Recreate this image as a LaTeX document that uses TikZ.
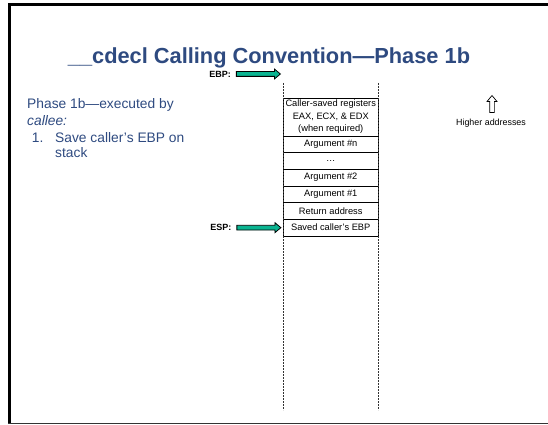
\documentclass[tikz,border=0pt]{standalone}
\usepackage{fontspec}
\setmainfont{Liberation Sans}
\usetikzlibrary{positioning,shapes.arrows}
\definecolor{slideblue}{RGB}{46,74,128}
\definecolor{ptrgreen}{RGB}{10,180,145}
\tikzset{
  slot/.style={draw, line width=0.9pt, minimum width=95.5pt, minimum height=16.67pt,
    inner sep=0pt, outer sep=0pt, font=\fontsize{9.3}{12.5}\selectfont},
  ptr/.style={single arrow, draw, fill=ptrgreen, line width=0.8pt, minimum height=44pt,
    inner xsep=0pt, inner ysep=2pt, single arrow head extend=2.6pt,
    single arrow tip angle=80},
  regname/.style={font=\bfseries\fontsize{9}{10}\selectfont, inner sep=1pt},
  bullet/.style={anchor=base west, inner sep=0pt, text=slideblue, font=\fontsize{13.8}{16}\selectfont},
  stackedge/.style={dash pattern=on 2pt off 1pt, line width=0.9pt, black!80}
}
\begin{document}
\begin{tikzpicture}[x=1pt,y=-1pt]
    \useasboundingbox (0,0) rectangle (548,425);
    % slide frame
    \draw[line width=2.6pt] (9.6,424) |- (560,4.8);
    \draw[line width=1.3pt, black!80] (8.3,423.6) -- (560,423.6);

    \node[anchor=base, inner sep=0pt, text=slideblue, font=\bfseries\fontsize{21.8}{24}\selectfont]
      (title) at (269,63.5) {\_\_cdecl Calling Convention—Phase 1b};

    \node[bullet] (phase) at (27,108.2) {Phase 1b—executed by};
    \node[bullet] (callee) at (27,125) {\itshape callee:};
    \node[bullet] (num) at (31.7,142.6) {1.};
    \node[bullet] (save) at (55,142.6) {Save caller’s EBP on};
    \node[bullet] (stack) at (55,157.8) {stack};

    % stack frame
    \node[slot, minimum height=38pt, align=center] (callersaved) at (330.75,117)
      {Caller-saved registers\\EAX, ECX, \& EDX\\(when required)};
    \foreach \y/\txt/\nm in {144.33/{Argument \#n}/argn, 161/{…}/more,
        177.67/{Argument \#2}/argtwo, 194.33/{Argument \#1}/argone,
        211/{Return address}/retaddr, 227.67/{Saved caller’s EBP}/savedebp} {
      \node[slot] (\nm) at (330.75,\y) {\txt};
    }
    \coordinate (ltop) at (283,83);
    \coordinate (lbot) at (283,410);
    \coordinate (rtop) at (378.5,83);
    \coordinate (rbot) at (378.5,410);
    \draw[stackedge] (ltop) -- (lbot);
    \draw[stackedge] (rtop) -- (rbot);

    % register pointers
    \node[ptr, anchor=tip] (ebparrow) at (281,74) {};
    \node[regname, left=4pt of ebparrow] (ebp) {EBP:};
    \node[ptr, anchor=tip] (esparrow) at ([xshift=-1.5pt]savedebp.west) {};
    \node[regname, left=4pt of esparrow] (esp) {ESP:};

    \node[single arrow, draw, fill=white, line width=0.7pt, rotate=90, minimum height=17pt,
      inner xsep=0pt, inner ysep=2pt, single arrow head extend=2.6pt,
      single arrow tip angle=80, anchor=tip]
      (uparrow) at (492,95) {};
    \node[font=\fontsize{8.9}{10}\selectfont] (higher) at (491,123) {Higher addresses};
  \end{tikzpicture}
\end{document}
